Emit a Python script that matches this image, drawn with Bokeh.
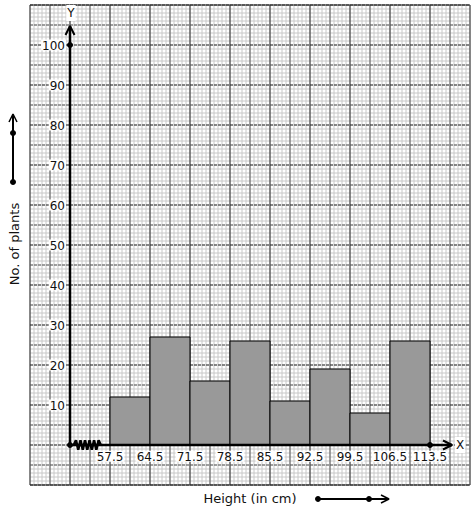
import numpy as np
from bokeh.plotting import figure
from bokeh.models import Range1d, Arrow, OpenHead
from bokeh.embed import file_html
from bokeh.resources import INLINE
from bokeh.core.properties import value

# ---- data ----
class_edges = [57.5, 64.5, 71.5, 78.5, 85.5, 92.5, 99.5, 106.5, 113.5]
num_plants = [12, 27, 16, 26, 11, 19, 8, 26]
x_tick_labels = ["57.5", "64.5", "71.5", "78.5", "85.5", "92.5", "99.5", "106.5", "113.5"]
y_tick_values = [10, 20, 30, 40, 50, 60, 70, 80, 90, 100]
x_title = "Height (in cm)"
y_title = "No. of plants"

# ---- scales (graph-paper layout) ----
W, H = 474, 510
XU = 7 / 40.0          # x units per pixel
YU = 1 / 4.0           # y units per pixel
x_origin = 50.5        # x value where the Y axis stands (kink before 57.5)
x_start = x_origin - 69.5 * XU
x_end = x_start + W * XU
y_end = 444.5 * YU
y_start = y_end - H * YU

p = figure(width=W, height=H, output_backend="svg", toolbar_location=None,
           x_range=Range1d(x_start, x_end), y_range=Range1d(y_start, y_end),
           min_border=0, min_border_left=0, min_border_right=0,
           min_border_top=0, min_border_bottom=0)
p.axis.visible = False
p.grid.visible = False
p.outline_line_color = None
p.background_fill_color = "white"
p.border_fill_color = "white"

# ---- graph paper ----
gx0, gx1 = x_origin - 7, x_origin + 70   # 43.5 .. 120.5
gy0, gy1 = -10, 110
minor_x = np.arange(gx0, gx1 + 1e-6, 0.7)
minor_y = np.arange(gy0, gy1 + 1e-6, 1.0)
p.segment(x0=minor_x, y0=gy0, x1=minor_x, y1=gy1, line_color="#c8c8c8", line_width=1)
p.segment(x0=gx0, y0=minor_y, x1=gx1, y1=minor_y, line_color="#c8c8c8", line_width=1)

mid_x = np.arange(gx0 + 3.5, gx1, 7.0)
dark_x = np.arange(gx0, gx1 + 1e-6, 7.0)
p.segment(x0=mid_x, y0=gy0, x1=mid_x, y1=gy1, line_color="#5a5a5a", line_width=1)
p.segment(x0=dark_x, y0=gy0, x1=dark_x, y1=gy1, line_color="#2a2a2a", line_width=1)

mid_y = np.arange(gy0 + 5, gy1, 10.0)
dark_y = np.arange(gy0, gy1 + 1e-6, 10.0)
p.segment(x0=gx0, y0=mid_y, x1=gx1, y1=mid_y, line_color="#5a5a5a", line_width=1, line_dash="3 1")
p.segment(x0=gx0, y0=dark_y, x1=gx1, y1=dark_y, line_color="#2a2a2a", line_width=1, line_dash="3 1")
p.segment(x0=gx0, y0=gy0, x1=gx1, y1=gy0, line_color="#2a2a2a", line_width=1)
p.segment(x0=gx0, y0=gy1, x1=gx1, y1=gy1, line_color="#2a2a2a", line_width=1)

# ---- histogram bars ----
p.quad(left=class_edges[:-1], right=class_edges[1:], bottom=0, top=num_plants,
       fill_color="#999999", line_color="black", line_width=1)

# ---- axes ----
y_tip = 104.75
x_tip = x_origin + 382 * XU
p.line([x_origin, x_origin], [0, y_tip], line_color="black", line_width=2.5)
p.line([x_origin, x_tip], [0, 0], line_color="black", line_width=2.5)
p.add_layout(Arrow(end=OpenHead(size=9, line_width=2, line_color="black"),
                   x_start=x_origin, y_start=y_tip - 5, x_end=x_origin, y_end=y_tip,
                   line_color="black", line_width=2))
p.add_layout(Arrow(end=OpenHead(size=9, line_width=2, line_color="black"),
                   x_start=x_tip - 1, y_start=0, x_end=x_tip, y_end=0,
                   line_color="black", line_width=2))
p.scatter([x_origin, x_origin, class_edges[-1]], [0, 100, 0], size=5, color="black")

# kink (zig-zag) on x axis between origin and first class
zx = np.linspace(x_origin + 0.65, class_edges[0] - 1.6, 13)
zy = np.array([0 if i in (0, 12) else (1.2 if i % 2 else -1.2) for i in range(13)])
p.line(zx, zy, line_color="black", line_width=2.5)

# ---- tick labels ----
font = value("DejaVu Sans")
p.text(x=[x_origin - 4 * XU] * len(y_tick_values), y=y_tick_values,
       text=[str(v) for v in y_tick_values], text_font=font, text_font_size="12px",
       text_align="right", text_baseline="middle", text_color="#111111",
       background_fill_color="white", padding=1)
p.text(x=class_edges, y=[-2.8] * len(class_edges), text=x_tick_labels,
       text_font=font, text_font_size="12px", text_align="center",
       text_baseline="middle", text_color="#111111",
       background_fill_color="white", padding=1)

# axis letters
p.text(x=[x_origin + 1 * XU], y=[108], text=["Y"], text_font=font, text_font_size="12px",
       text_align="center", text_baseline="middle", text_color="#111111",
       background_fill_color="white", padding=1)
p.text(x=[x_origin + 390 * XU], y=[0], text=["X"], text_font=font, text_font_size="12px",
       text_align="center", text_baseline="middle", text_color="#111111",
       background_fill_color="white", padding=1)

# ---- titles ----
p.text(x=[x_origin - 56 * XU], y=[50.25], text=[y_title], angle=np.pi / 2,
       text_font=font, text_font_size="13px", text_align="center",
       text_baseline="middle", text_color="#111111")
p.text(x=[x_origin + 180 * XU], y=[-13.25], text=[x_title],
       text_font=font, text_font_size="13px", text_align="center",
       text_baseline="middle", text_color="#111111")

# ---- decorative direction arrows ----
lx = x_origin - 57 * XU
p.line([lx, lx], [65.75, 82.0], line_color="black", line_width=2)
p.add_layout(Arrow(end=OpenHead(size=8, line_width=1.5, line_color="black"),
                   x_start=lx, y_start=80, x_end=lx, y_end=82.75,
                   line_color="black", line_width=2))
p.scatter([lx, lx], [65.75, 78], size=5, color="black")

by = -13.5
bx0 = x_origin + 248 * XU
bx1 = x_origin + 299 * XU
bx2 = x_origin + 319 * XU
p.line([bx0, bx2 - 0.2], [by, by], line_color="black", line_width=2)
p.add_layout(Arrow(end=OpenHead(size=8, line_width=1.5, line_color="black"),
                   x_start=bx2 - 1, y_start=by, x_end=bx2, y_end=by,
                   line_color="black", line_width=2))
p.scatter([bx0, bx1], [by, by], size=5, color="black")

open("out.html", "w").write(file_html(p, INLINE))
